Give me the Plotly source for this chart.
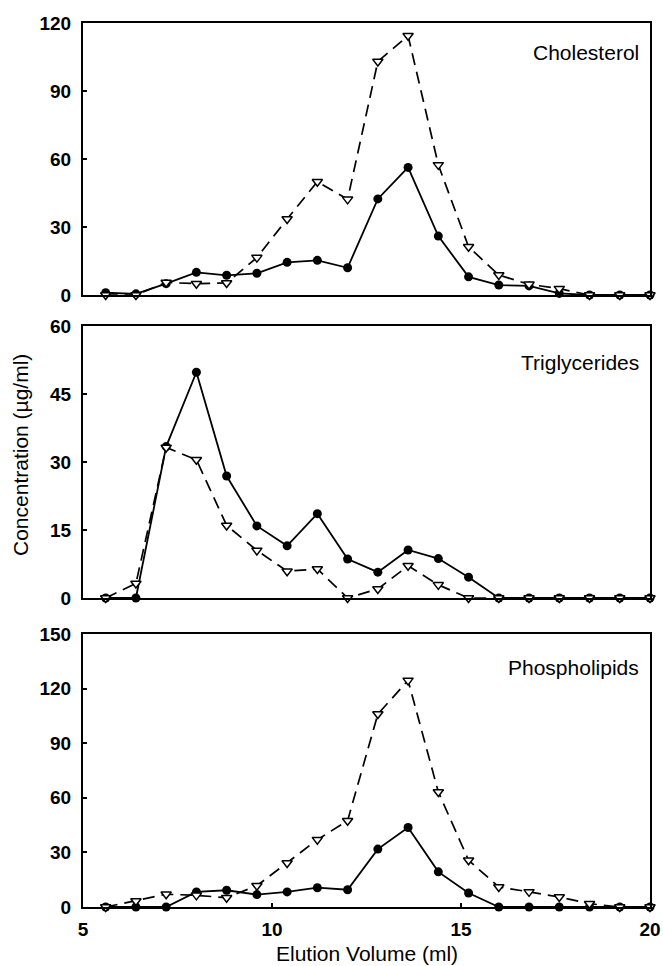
import plotly.graph_objects as go

elution_ml = [5.6, 6.4, 7.2, 8.0, 8.8, 9.6, 10.4, 11.2, 12.0, 12.8, 13.6,
              14.4, 15.2, 16.0, 16.8, 17.6, 18.4, 19.2, 20.0]

chol_solid = [1.0, 0.5, 5.0, 10.0, 8.7, 9.6, 14.4, 15.3, 12.0, 42.4, 56.3,
              26.0, 8.0, 4.4, 4.0, 0.7, 0, 0, 0]
chol_dash = [0, 0, 5.5, 5.0, 5.3, 16.5, 33.5, 50.0, 42.2, 103.0, 114.4,
             57.4, 21.3, 8.8, 4.7, 2.8, 0, 0, 0]

trig_solid = [0, 0, 33.4, 49.8, 26.9, 15.9, 11.5, 18.6, 8.6, 5.7, 10.6,
              8.7, 4.6, 0, 0, 0, 0, 0, 0]
trig_dash = [0, 3.2, 33.2, 30.5, 16.0, 10.5, 5.9, 6.4, 0, 2.0, 7.1,
             2.9, 0, 0, 0, 0, 0, 0, 0]

phos_solid = [0, 0, 0, 8.3, 9.2, 6.8, 8.3, 10.6, 9.5, 31.8, 43.7,
              19.3, 7.7, 0, 0, 0, 0, 0, 0]
phos_dash = [0, 3.3, 7.0, 6.4, 5.1, 11.7, 24.2, 37.0, 47.4, 106.0, 124.5,
             63.2, 25.7, 11.0, 8.3, 5.5, 1.8, 0, 0]

panel_names = ["Cholesterol", "Triglycerides", "Phospholipids"]
y_ticks = [[0, 30, 60, 90, 120], [0, 15, 30, 45, 60], [0, 30, 60, 90, 120, 150]]
y_ranges = [[0, 120], [0, 60], [0, 150]]
x_ticks = [5, 10, 15, 20]

W, H = 663, 966
L, R, T, B = 83, 650, 23, 907
ph = B - T
def py(y):
    return (B - y) / ph
def px(x):
    return (x - L) / (R - L)

panel_px = [(23, 295), (326, 598), (634, 907)]
label_y = [52, 363, 667]

fig = go.Figure()
series = [(chol_solid, chol_dash), (trig_solid, trig_dash), (phos_solid, phos_dash)]
tick_font = dict(family="Liberation Sans, Arial, sans-serif", size=19, color="black", weight="bold")
for i, (s, d) in enumerate(series):
    xa = "x" if i == 0 else f"x{i+1}"
    ya = "y" if i == 0 else f"y{i+1}"
    fig.add_trace(go.Scatter(x=elution_ml, y=s, xaxis=xa, yaxis=ya, mode="lines+markers",
                             line=dict(color="black", width=1.8),
                             marker=dict(symbol="circle", size=9, color="black"),
                             cliponaxis=False, showlegend=False))
    fig.add_trace(go.Scatter(x=elution_ml, y=d, xaxis=xa, yaxis=ya, mode="lines+markers",
                             line=dict(color="black", width=1.7, dash="12px,7px"),
                             marker=dict(symbol="triangle-down", size=9, color="white",
                                         line=dict(color="black", width=1.5)),
                             cliponaxis=False, showlegend=False))

layout = dict(width=W, height=H, margin=dict(l=L, r=W - R, t=T, b=H - B),
              plot_bgcolor="white", paper_bgcolor="white")
for i in range(3):
    top, bot = panel_px[i]
    sfx = "" if i == 0 else str(i + 1)
    layout["xaxis" + sfx] = dict(range=[5, 20], domain=[0, 1], anchor="y" + sfx,
                                 showline=True, linecolor="black", linewidth=2, mirror=True,
                                 showgrid=False, zeroline=False, automargin=False,
                                 tickvals=x_ticks, ticks="inside" if i == 2 else "",
                                 ticklen=4, tickcolor="black", tickwidth=1.5,
                                 showticklabels=(i == 2), tickfont=tick_font,
                                 ticklabelstandoff=4)
    layout["yaxis" + sfx] = dict(range=y_ranges[i], domain=[py(bot), py(top)], anchor="x" + sfx,
                                 showline=True, linecolor="black", linewidth=2, mirror=True,
                                 showgrid=False, zeroline=False, automargin=False,
                                 tickvals=y_ticks[i], ticks="inside", ticklen=4,
                                 tickcolor="black", tickwidth=1.5, tickfont=tick_font,
                                 ticklabelstandoff=6)
fig.update_layout(**layout)

title_font = dict(family="Liberation Sans, Arial, sans-serif", size=21, color="black")
annotations = []
for i in range(3):
    annotations.append(dict(text=panel_names[i], x=px(641), y=py(label_y[i]), xref="paper",
                            yref="paper", xanchor="right", yanchor="middle", showarrow=False,
                            font=title_font))
annotations.append(dict(text="Elution Volume (ml)", x=0.5, y=py(953), xref="paper", yref="paper",
                        xanchor="center", yanchor="middle", showarrow=False, font=title_font))
annotations.append(dict(text="Concentration (µg/ml)", x=px(20), y=py(455), xref="paper",
                        yref="paper", xanchor="center", yanchor="middle", textangle=-90,
                        showarrow=False, font=title_font))
fig.update_layout(annotations=annotations)

fig.write_html("out.html", config={"displayModeBar": False},
               post_script="document.body.style.margin='0';")
